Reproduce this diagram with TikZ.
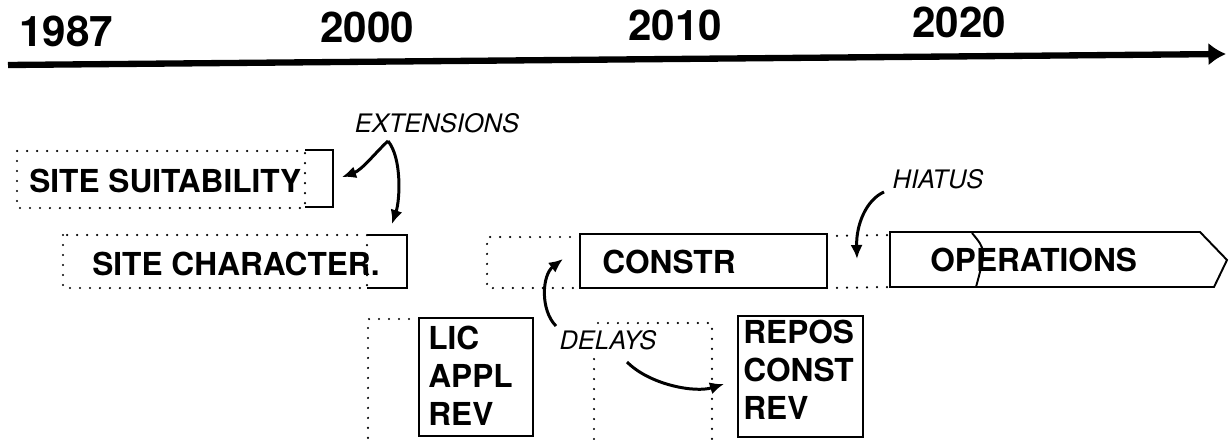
\documentclass[tikz,border=0pt]{standalone}
\usepackage{fontspec}
\setmainfont{TeX Gyre Heros}
\usetikzlibrary{arrows.meta}
\begin{document}
\begin{tikzpicture}[x=0.02cm,y=-0.02cm,
  yearlbl/.style={font=\bfseries\fontsize{24}{28}\selectfont, inner sep=0},
  boxlbl/.style={font=\bfseries\fontsize{18}{21.5}\selectfont, inner sep=0, align=left},
  notelbl/.style={font=\itshape\fontsize{14.5}{17}\selectfont, inner sep=0},
  solidbox/.style={draw, line width=1.1pt},
  dotbox/.style={draw, line width=1.4pt, line cap=round, dash pattern=on 0pt off 0.2cm},
  curvearrow/.style={line width=1.7pt, -{Latex[length=8pt,width=7pt]}},
  timeaxis/.style={line width=3.6pt, -{Latex[length=10pt,width=13pt]}}
]
\useasboundingbox (0,0) rectangle (1229,439);

% timeline
\coordinate (t0) at (8,65);
\coordinate (t1) at (1226,54);
\draw[timeaxis] (t0) -- (t1);
\node[yearlbl] (y1987) at (66,31) {1987};
\node[yearlbl] (y2000) at (367,27) {2000};
\node[yearlbl] (y2010) at (675,25) {2010};
\node[yearlbl] (y2020) at (959,22) {2020};

% site suitability
\draw[dotbox] (17,151) rectangle (305,208);
\draw[solidbox] (305,150) -- (333,150) -- (333,207) -- (305,207);
\node[boxlbl, anchor=west] (ss) at (29,181) {SITE SUITABILITY};

% site characterization
\draw[dotbox] (63,235) rectangle (367,288);
\draw[solidbox] (367,235) -- (407,235) -- (407,288) -- (367,288);
\node[boxlbl, anchor=west] (sc) at (92,264) {SITE CHARACTER.};

% construction
\draw[dotbox] (580,237) -- (487,237) -- (487,288) -- (580,288);
\draw[solidbox] (580,234) rectangle (827,288);
\node[boxlbl] (constr) at (669,262) {CONSTR};
\draw[dotbox] (827,236) -- (890,235);
\draw[dotbox] (827,288) -- (890,287);

% operations
\draw[solidbox] (890,232) -- (1200,232) -- (1227,260) -- (1214,287) -- (890,287) -- cycle;
\draw[solidbox] (972,233) .. controls (986,250) .. (976,287);
\node[boxlbl, anchor=west] (ops) at (930,260) {OPERATIONS};

% license application review
\draw[dotbox] (419,319) -- (368,319) -- (368,439);
\draw[solidbox] (419,318) rectangle (533,436);
\node[boxlbl, anchor=west] (lic) at (428,376) {LIC\\APPL\\REV};

% delayed window
\draw[dotbox] (594,439) -- (594,323) -- (712,323) -- (712,439);

% repository construction review
\draw[solidbox] (738,316) rectangle (863,437);
\node[boxlbl, anchor=west] (repos) at (743,370) {REPOS\\CONST\\REV};

% annotations
\node[notelbl] (ext) at (437,123) {EXTENSIONS};
\node[notelbl] (hiatus) at (938,179) {HIATUS};
\node[notelbl, fill=white, inner sep=2pt] (delays) at (608,340) {DELAYS};

\coordinate (extA) at (388,141);
\coordinate (ssTip) at (342,177);
\coordinate (scTip) at (392,224);
\draw[curvearrow] (extA) .. controls (376,152) and (362,170) .. (ssTip);
\draw[curvearrow] (extA) .. controls (402,158) and (400,200) .. (scTip);

\coordinate (hiA) at (884,192);
\coordinate (hiTip) at (857,259);
\draw[curvearrow] (hiA) .. controls (866,200) and (856,225) .. (hiTip);

\coordinate (dlA) at (556,326);
\coordinate (dlTip) at (563,259);
\draw[curvearrow] (dlA) .. controls (540,310) and (542,275) .. (dlTip);

\coordinate (dlB) at (627,362);
\coordinate (rpTip) at (724,384);
\draw[curvearrow] (dlB) .. controls (650,385) and (695,393) .. (rpTip);
\end{tikzpicture}
\end{document}
